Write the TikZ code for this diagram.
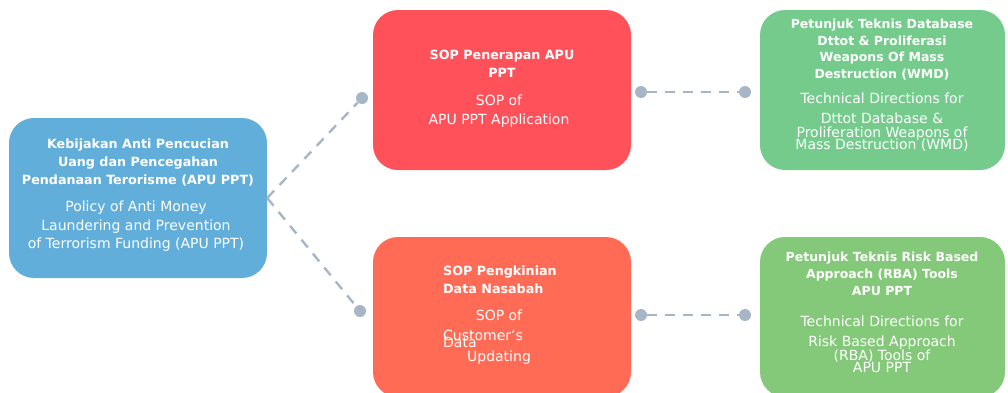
\documentclass[tikz,border=0pt]{standalone}
\usepackage{fontspec}
\setmainfont{DejaVu Sans}
\usetikzlibrary{positioning}
\definecolor{policyblue}{HTML}{62AEDB}
\definecolor{sopred}{HTML}{FF5159}
\definecolor{sopcoral}{HTML}{FF6B55}
\definecolor{techgreen}{HTML}{74CB8C}
\definecolor{techlime}{HTML}{84C979}
\definecolor{linkgray}{HTML}{A7B6C6}

\begin{document}
\begin{tikzpicture}[x=1pt, y=-1pt,
    box/.style={rectangle, rounded corners=25pt, minimum width=258pt,
                minimum height=160pt, inner sep=0pt},
    head/.style={text=white, font=\fontsize{12.7}{18}\selectfont\bfseries,
                 align=center, inner sep=0pt},
    body/.style={text=white, font=\fontsize{14}{18.5}\selectfont,
                 align=center, inner sep=0pt},
    link/.style={draw=linkgray, line width=2.4pt, dash pattern=on 10pt off 8pt},
    knob/.style={circle, fill=linkgray, minimum size=12pt, inner sep=0pt}
  ]
  \useasboundingbox (0,0) rectangle (1008,392);
  \clip (0,0) rectangle (1008,392);

  % boxes
  \node[box, fill=policyblue] (policy) at (138,198) {};
  \node[box, fill=sopred] (penerapan) at (502,90) {};
  \node[box, fill=sopcoral] (pengkinian) at (502,317) {};
  \node[box, minimum width=245pt, fill=techgreen] (wmd) at (882.5,90) {};
  \node[box, minimum width=245pt, fill=techlime] (rba) at (882.5,317) {};

  % texts
  \node[head] (policy-h) at (138,163) {Kebijakan Anti Pencucian\\Uang dan Pencegahan\\Pendanaan Terorisme (APU PPT)};
  \node[body] (policy-b) at (136,226.5) {Policy of Anti Money\\Laundering and Prevention\\of Terrorism Funding (APU PPT)};

  \node[head] (penerapan-h) at (502,64) {SOP Penerapan APU\\PPT};
  \node[body] (penerapan-b) at (499,111) {SOP of\\APU PPT Application};

  \node[head, align=left, anchor=west] (pengkinian-h) at (443,280) {SOP Pengkinian\\Data Nasabah};
  \node[body] (pengkinian-b1) at (499,315) {SOP of};
  \node[body, anchor=west] (pengkinian-b2) at (443,335) {Customer's};
  \node[body, anchor=west] (pengkinian-b3) at (443,342) {Data};
  \node[body] (pengkinian-b4) at (499,358) {Updating};

  \node[head, font=\fontsize{12.5}{16.5}\selectfont\bfseries] (wmd-h) at (882,49.5) {Petunjuk Teknis Database\\Dttot \& Proliferasi\\Weapons Of Mass\\Destruction (WMD)};
  \node[body] (wmd-b) at (882,122) {Technical Directions for\\[1.5pt]Dttot Database \&\\[-4.5pt]Proliferation Weapons of\\[-7pt]Mass Destruction (WMD)};

  \node[head, font=\fontsize{12.5}{17}\selectfont\bfseries] (rba-h) at (882,274) {Petunjuk Teknis Risk Based\\Approach (RBA) Tools\\APU PPT};
  \node[body] (rba-b) at (882,344) {Technical Directions for\\[1.5pt]Risk Based Approach\\[-4.5pt](RBA) Tools of\\[-6.5pt]APU PPT};

  % connectors
  \node[knob] (knob-a) at (362,98) {};
  \node[knob] (knob-b) at (360,311) {};
  \node[knob] (knob-c) at (641,92) {};
  \node[knob] (knob-d) at (745,92) {};
  \node[knob] (knob-e) at (641,315) {};
  \node[knob] (knob-f) at (745,315) {};

  \draw[link] (policy.east) -- (knob-a);
  \draw[link] (policy.east) -- (knob-b);
  \draw[link] (knob-c) -- (knob-d);
  \draw[link] (knob-e) -- (knob-f);
\end{tikzpicture}
\end{document}
